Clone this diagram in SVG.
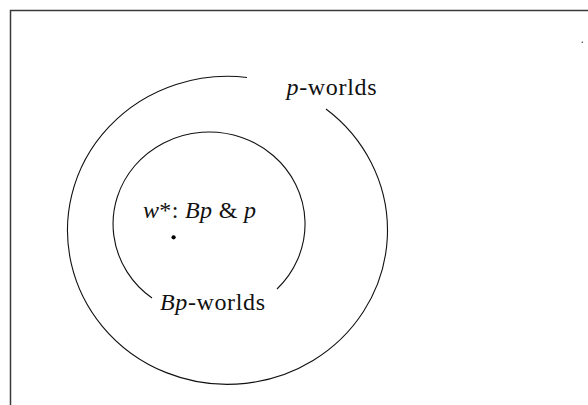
<svg xmlns="http://www.w3.org/2000/svg" width="588" height="405" viewBox="0 0 588 405">
  <style>
    .arc { fill: none; stroke: #111; stroke-width: 1.1; }
    .lbl { font-family: "Liberation Serif", "Times New Roman", serif; font-size: 24px; fill: #111; }
    .it { font-style: italic; }
  </style>
  <rect x="0" y="0" width="588" height="405" fill="#ffffff"/>
  <g id="frame">
    <rect x="10.5" y="10.5" width="600" height="420" fill="none" stroke="#3a3a3a" stroke-width="1.5"/>
    <circle cx="582.3" cy="42.3" r="0.8" fill="#444"/>
  </g>
  <g id="p-worlds">
    <path class="arc" d="M 326 109 A 160 154 0 1 1 247 77.5"/>
    <text class="lbl" x="286.5" y="95" textLength="90" lengthAdjust="spacing"><tspan class="it">p</tspan>-worlds</text>
  </g>
  <g id="Bp-worlds">
    <path class="arc" d="M 277 289 A 96 92 0 1 0 152 298"/>
    <text class="lbl" x="160" y="310" textLength="105" lengthAdjust="spacing"><tspan class="it">Bp</tspan>-worlds</text>
  </g>
  <g id="w-star">
    <circle cx="173.6" cy="237.3" r="2.1" fill="#000"/>
    <text class="lbl" x="143" y="218" textLength="113" lengthAdjust="spacing"><tspan class="it">w</tspan>*: <tspan class="it">Bp</tspan> &amp; <tspan class="it">p</tspan></text>
  </g>
  <g id="connectors"/>
</svg>
